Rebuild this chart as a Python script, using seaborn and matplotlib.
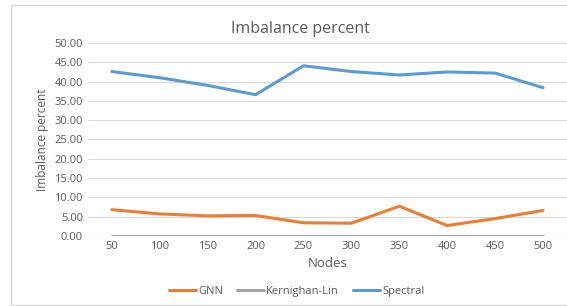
import pandas as pd
import matplotlib.pyplot as plt
import seaborn as sns
from matplotlib.patches import Rectangle

# data
nodes = [50, 100, 150, 200, 250, 300, 350, 400, 450, 500]
gnn = [6.8, 5.7, 5.2, 5.3, 3.4, 3.3, 7.7, 2.7, 4.5, 6.6]
kl = [0, 0, 0, 0, 0, 0, 0, 0, 0, 0]
spectral = [42.6, 41.0, 39.0, 36.6, 44.1, 42.6, 41.7, 42.5, 42.2, 38.4]

veri = pd.DataFrame({
    "Nodes": nodes * 3,
    "value": gnn + kl + spectral,
    "method": ["GNN"] * 10 + ["Kernighan-Lin"] * 10 + ["Spectral"] * 10,
})

sns.set_style("white")
plt.rcParams["font.family"] = ["Open Sans", "DejaVu Sans"]
renkler = {"GNN": "#ED7D31", "Kernighan-Lin": "#A5A5A5", "Spectral": "#5B9BD5"}
yazi = "#595959"

fig = plt.figure(figsize=(5.67, 3.06), dpi=100)
ax = fig.add_axes([0.155, 0.229, 0.845, 0.6305])
sns.lineplot(data=veri, x="Nodes", y="value", hue="method", palette=renkler,
             linewidth=2.2, ax=ax)

ax.set_xlim(25, 525)
ax.set_ylim(0, 50)
ax.set_xticks(nodes)
ax.set_yticks(range(0, 51, 5))
ax.set_yticklabels([f"{v:.2f}" for v in range(0, 51, 5)])
ax.tick_params(axis="both", length=0, labelsize=8, colors=yazi)
ax.yaxis.grid(True, color="#D9D9D9", linewidth=0.8)
for s in ax.spines.values():
    s.set_visible(False)
ax.set_axisbelow(True)

ax.set_xlabel("Nodes", fontsize=9.5, color=yazi)
ax.set_ylabel("Imbalance percent", fontsize=8.5, color=yazi)
ax.set_title("Imbalance percent", fontsize=11.5, color=yazi, pad=7, x=0.443)

ax.legend(loc="center", bbox_to_anchor=(0.436, -0.29), ncol=3, frameon=False,
          fontsize=8, labelcolor=yazi, handlelength=2.4, columnspacing=1.3,
          handletextpad=0.2)

fig.patches.append(Rectangle((11 / 567, 0.003), 0.99, 1 - 5 / 306 - 0.003,
                             transform=fig.transFigure, fill=False,
                             edgecolor="#D9D9D9", linewidth=1))

plt.savefig("out.png", dpi=100)
